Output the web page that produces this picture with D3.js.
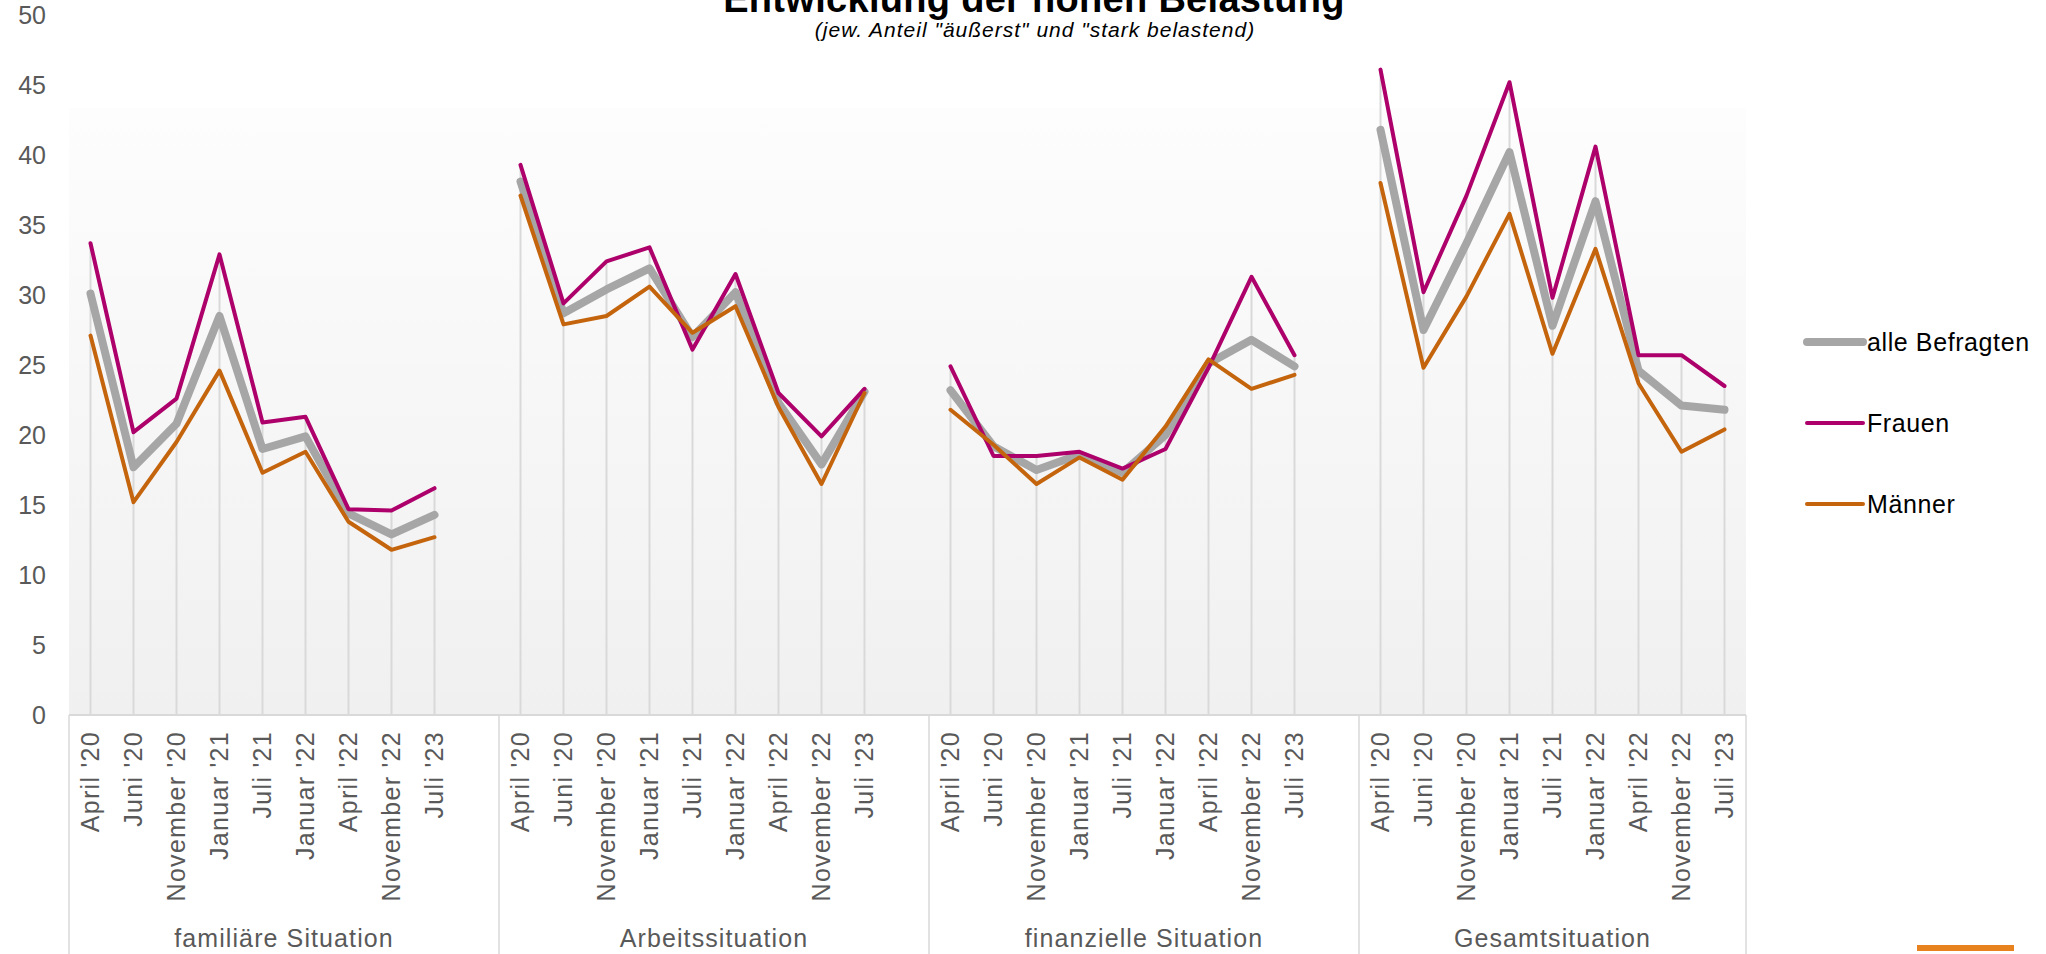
<!DOCTYPE html>
<html>
<head>
<meta charset="utf-8">
<script src="https://cdn.jsdelivr.net/npm/d3@7"></script>
<style>
  body { margin: 0; background: #fff; }
  svg { display: block; font-family: "Liberation Sans", Arial, sans-serif; }
</style>
</head>
<body>
<svg></svg>
<script>
// values
const groups = ['familiäre Situation', 'Arbeitssituation', 'finanzielle Situation', 'Gesamtsituation'];
const months = ["April '20", "Juni '20", "November '20", "Januar '21", "Juli '21", "Januar '22", "April '22", "November '22", "Juli '23"];
const yTicks = [0, 5, 10, 15, 20, 25, 30, 35, 40, 45, 50];

const alleBefragten = [
    [30.1, 17.7, 20.8, 28.5, 19.0, 19.9, 14.4, 12.9, 14.3],
    [38.1, 28.7, 30.4, 31.9, 27.0, 30.2, 22.3, 17.9, 23.1],
    [23.2, 19.2, 17.5, 18.6, 17.3, 20.0, 25.1, 26.8, 24.9],
    [41.8, 27.5, 33.7, 40.2, 27.8, 36.7, 24.6, 22.1, 21.8]
];
const frauen = [
    [33.7, 20.2, 22.6, 32.9, 20.9, 21.3, 14.7, 14.6, 16.2],
    [39.3, 29.4, 32.4, 33.4, 26.1, 31.5, 23.0, 19.9, 23.3],
    [24.9, 18.5, 18.5, 18.8, 17.6, 19.0, 24.8, 31.3, 25.7],
    [46.1, 30.2, 37.1, 45.2, 29.8, 40.6, 25.7, 25.7, 23.5]
];
const maenner = [
    [27.1, 15.2, 19.5, 24.6, 17.3, 18.8, 13.8, 11.8, 12.7],
    [37.1, 27.9, 28.5, 30.6, 27.3, 29.2, 22.0, 16.5, 23.0],
    [21.8, 19.3, 16.5, 18.4, 16.8, 20.6, 25.4, 23.3, 24.3],
    [38.0, 24.8, 29.9, 35.8, 25.8, 33.3, 23.7, 18.8, 20.4]
];

const series = [
    {name: 'alle Befragten', values: alleBefragten, color: '#a6a6a6', width: 8},
    {name: 'Frauen', values: frauen, color: '#ad006b', width: 4},
    {name: 'Männer', values: maenner, color: '#c4650e', width: 4}
];

const width = 2046;
const height = 954;
const plotLeft = 69, plotRight = 1746, plotTop = 15, plotBottom = 715;

const svg = d3.select('svg')
    .attr('width', width)
    .attr('height', height);

// category slots: 9 months per group, one empty slot between groups
let keys = [];
groups.forEach((g, gi) => {
    months.forEach((m, mi) => keys.push(gi + '|' + mi));
    if (gi < groups.length - 1) keys.push(gi + '|gap');
});
const dataKeys = keys.filter(k => !k.endsWith('gap'));

const x = d3.scaleBand().domain(keys).range([plotLeft, plotRight]).padding(0);
const bw = x.bandwidth();
const cx = k => x(k) + bw / 2;
const y = d3.scaleLinear().domain([0, 50]).range([plotBottom, plotTop]);

// plot background
const grad = svg.append('defs').append('linearGradient')
    .attr('id', 'bg').attr('x1', 0).attr('y1', 0).attr('x2', 0).attr('y2', 1);
grad.append('stop').attr('offset', '0%').attr('stop-color', '#fdfdfd');
grad.append('stop').attr('offset', '100%').attr('stop-color', '#f0f0f0');

svg.append('rect')
    .attr('x', plotLeft).attr('y', 108)
    .attr('width', plotRight - plotLeft).attr('height', plotBottom - 108)
    .attr('fill', 'url(#bg)');

// title (cut at the top edge, as in the source)
svg.append('text')
    .attr('x', 1034).attr('y', 12)
    .attr('text-anchor', 'middle')
    .attr('font-size', 38).attr('font-weight', 'bold')
    .attr('letter-spacing', 0.3)
    .attr('fill', '#000')
    .text('Entwicklung der hohen Belastung');
svg.append('text')
    .attr('x', 1035).attr('y', 37)
    .attr('text-anchor', 'middle')
    .attr('font-size', 21).attr('font-style', 'italic')
    .attr('letter-spacing', 1)
    .attr('fill', '#000')
    .text('(jew. Anteil "äußerst" und "stark belastend)');

// drop lines from highest point to axis
svg.append('g').selectAll('line')
    .data(dataKeys)
    .join('line')
    .attr('x1', d => cx(d)).attr('x2', d => cx(d))
    .attr('y1', y(0))
    .attr('y2', d => {
        const [gi, mi] = d.split('|').map(Number);
        return y(d3.max(series, s => s.values[gi][mi]));
    })
    .attr('stroke', '#d9d9d9')
    .attr('stroke-width', 2);

// y axis
const yAxis = svg.append('g')
    .attr('transform', `translate(${plotLeft},0)`)
    .call(d3.axisLeft(y).tickValues(yTicks).tickSize(0).tickPadding(23));
yAxis.select('.domain').remove();
yAxis.selectAll('text')
    .attr('font-size', 25)
    .attr('font-family', '"Liberation Sans", Arial, sans-serif')
    .attr('fill', '#595959');

// x axis with rotated month labels
const xAxis = svg.append('g')
    .attr('transform', `translate(0,${plotBottom})`)
    .call(d3.axisBottom(x).tickValues(dataKeys).tickSize(0)
        .tickFormat(k => months[+k.split('|')[1]]));
xAxis.select('.domain').remove();
xAxis.selectAll('text')
    .attr('transform', 'rotate(-90)')
    .attr('text-anchor', 'end')
    .attr('x', -16).attr('y', 0).attr('dy', '0.35em')
    .attr('font-size', 25)
    .attr('letter-spacing', 1.3)
    .attr('font-family', '"Liberation Sans", Arial, sans-serif')
    .attr('fill', '#595959');

// axis line and group boxes
svg.append('line')
    .attr('x1', plotLeft).attr('x2', plotRight)
    .attr('y1', plotBottom).attr('y2', plotBottom)
    .attr('stroke', '#d9d9d9').attr('stroke-width', 2);

const groupBounds = groups.map((g, gi) => {
    const start = x(gi + '|0');
    const end = gi < groups.length - 1 ? x(gi + '|gap') + bw : x(gi + '|8') + bw;
    return {name: g, start: start, end: end};
});

const edges = [plotLeft].concat(groupBounds.map(d => d.end));
svg.append('g').selectAll('line')
    .data(edges)
    .join('line')
    .attr('x1', d => d).attr('x2', d => d)
    .attr('y1', plotBottom).attr('y2', height)
    .attr('stroke', '#d9d9d9').attr('stroke-width', 1.5);

svg.append('g').selectAll('text')
    .data(groupBounds)
    .join('text')
    .attr('x', d => (d.start + d.end) / 2)
    .attr('y', 947)
    .attr('text-anchor', 'middle')
    .attr('font-size', 25)
    .attr('letter-spacing', 1.1)
    .attr('fill', '#595959')
    .text(d => d.name);

// series lines, one path per group
const line = d3.line()
    .x(d => cx(d.key))
    .y(d => y(d.v));

series.forEach(s => {
    svg.append('g').selectAll('path')
        .data(s.values.map((vals, gi) => vals.map((v, mi) => ({key: gi + '|' + mi, v: v}))))
        .join('path')
        .attr('d', line)
        .attr('fill', 'none')
        .attr('stroke', s.color)
        .attr('stroke-width', s.width)
        .attr('stroke-linecap', 'round')
        .attr('stroke-linejoin', 'round');
});

// legend
const legend = svg.append('g').selectAll('g')
    .data(series)
    .join('g')
    .attr('transform', (d, i) => `translate(1807,${342 + i * 81})`);
legend.append('line')
    .attr('x1', 0).attr('x2', 56)
    .attr('stroke', d => d.color)
    .attr('stroke-width', d => d.width)
    .attr('stroke-linecap', 'round');
legend.append('text')
    .attr('x', 60).attr('dy', '0.36em')
    .attr('font-size', 25)
    .attr('letter-spacing', 0.6)
    .attr('fill', '#000')
    .text(d => d.name);

// small orange mark bottom right
svg.append('line')
    .attr('x1', 1917).attr('x2', 2014)
    .attr('y1', 948).attr('y2', 948)
    .attr('stroke', '#e8821e').attr('stroke-width', 6);
</script>
</body>
</html>
